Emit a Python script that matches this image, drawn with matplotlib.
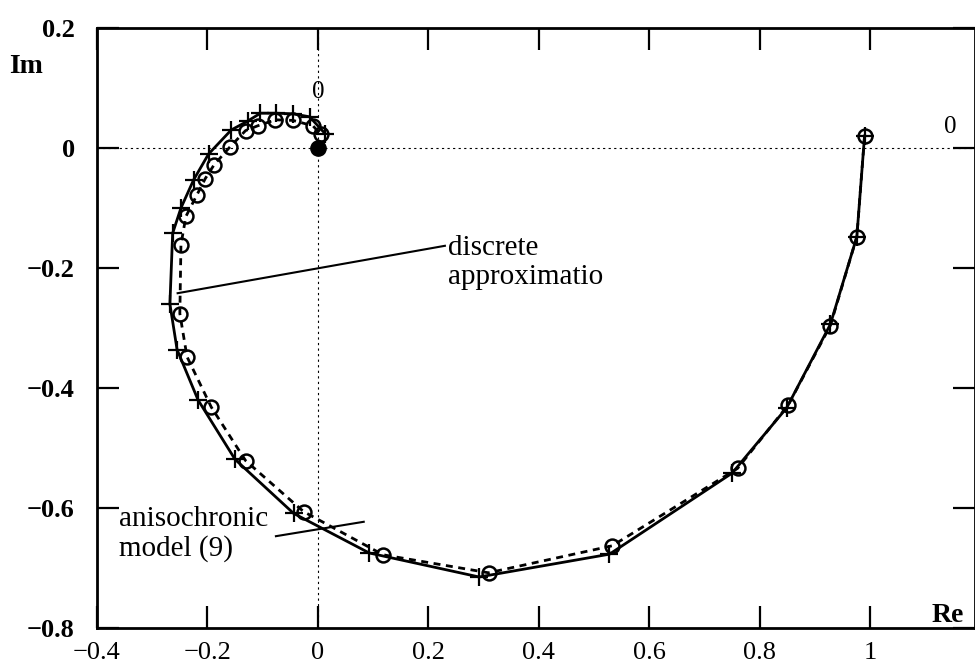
import matplotlib
matplotlib.use("Agg")
import matplotlib.pyplot as plt

# discrete approximation (dashed line, open circles)
disc_re = [0.99, 0.976, 0.928, 0.852, 0.76, 0.533, 0.309, 0.118, -0.026, -0.131,
           -0.193, -0.237, -0.25, -0.248, -0.239, -0.219, -0.204, -0.188, -0.16,
           -0.131, -0.109, -0.077, -0.045, -0.009, 0.005]
disc_im = [0.02, -0.148, -0.296, -0.428, -0.534, -0.663, -0.708, -0.678, -0.606, -0.521,
           -0.432, -0.348, -0.276, -0.161, -0.114, -0.078, -0.051, -0.028, 0.001,
           0.029, 0.037, 0.047, 0.046, 0.037, 0.023]

# anisochronic model (9) (solid line, plus markers)
model_re = [0.99, 0.976, 0.928, 0.849, 0.75, 0.528, 0.292, 0.093, -0.044, -0.15,
            -0.217, -0.255, -0.268, -0.263, -0.248, -0.225, -0.198, -0.157, -0.127,
            -0.104, -0.076, -0.045, -0.015, 0.013]
model_im = [0.02, -0.148, -0.294, -0.433, -0.542, -0.677, -0.715, -0.675, -0.609, -0.519,
            -0.42, -0.336, -0.26, -0.142, -0.1, -0.053, -0.01, 0.03, 0.045,
            0.058, 0.058, 0.057, 0.052, 0.024]

xticks = [-0.4, -0.2, 0, 0.2, 0.4, 0.6, 0.8, 1]
xticklabels = ["\u22120.4", "\u22120.2", "0", "0.2", "0.4", "0.6", "0.8", "1"]
yticks = [0.2, 0, -0.2, -0.4, -0.6, -0.8]
yticklabels = ["0.2", "0", "\u22120.2", "\u22120.4", "\u22120.6", "\u22120.8"]

plt.rcParams['font.family'] = ['Liberation Serif', 'DejaVu Serif']

fig = plt.figure(figsize=(9.75, 6.67), dpi=100)
ax = fig.add_axes([0.0995, 0.0585, 0.9005, 0.8995])

# reference axes (dotted)
ax.axhline(0, color='black', lw=0.8, ls=(0, (2, 3)), zorder=1)
ax.axvline(0, color='black', lw=0.8, ls=(0, (2, 3)), zorder=1)

ax.plot(model_re, model_im, color='black', lw=2, marker='+', ms=13, mew=1.6, zorder=3)
ax.plot(disc_re, disc_im, color='black', lw=2, ls=(0, (2.5, 2)), marker='o', ms=10,
        mfc='none', mec='black', mew=1.8, zorder=3)
ax.plot([0], [0], marker='o', ms=11, color='black', zorder=4)

# annotation leaders
ax.plot([-0.254, 0.23], [-0.242, -0.163], color='black', lw=1.5, zorder=2)
ax.plot([-0.076, 0.083], [-0.647, -0.623], color='black', lw=1.5, zorder=2)

ax.text(0.235, -0.19, "discrete\napproximatio", fontsize=21, va='center', ha='left',
        linespacing=1.15)
ax.text(-0.36, -0.643, "anisochronic\nmodel (9)", fontsize=21, va='center', ha='left',
        linespacing=1.15)

ax.text(0.0, 0.094, "0", fontsize=18, ha='center', va='center')
ax.text(1.145, 0.035, "0", fontsize=18, ha='center', va='center')
ax.text(1.14, -0.78, "Re", fontsize=20, ha='center', va='center', fontweight='bold',
        clip_on=False)
fig.text(0.027, 0.9, "Im", fontsize=20, ha='center', va='center', fontweight='bold')

ax.set_xlim(-0.4, 1.19)
ax.set_ylim(-0.8, 0.2)
ax.set_xticks(xticks)
ax.set_xticklabels(xticklabels)
ax.set_yticks(yticks)
ax.set_yticklabels(yticklabels, fontweight='bold')
ax.tick_params(direction='in', length=16, width=1.6, top=True, right=True,
               labelsize=19, pad=10)
ax.tick_params(axis='y', pad=16)
for s in ax.spines.values():
    s.set_linewidth(2)

fig.savefig("out.png", dpi=100)
